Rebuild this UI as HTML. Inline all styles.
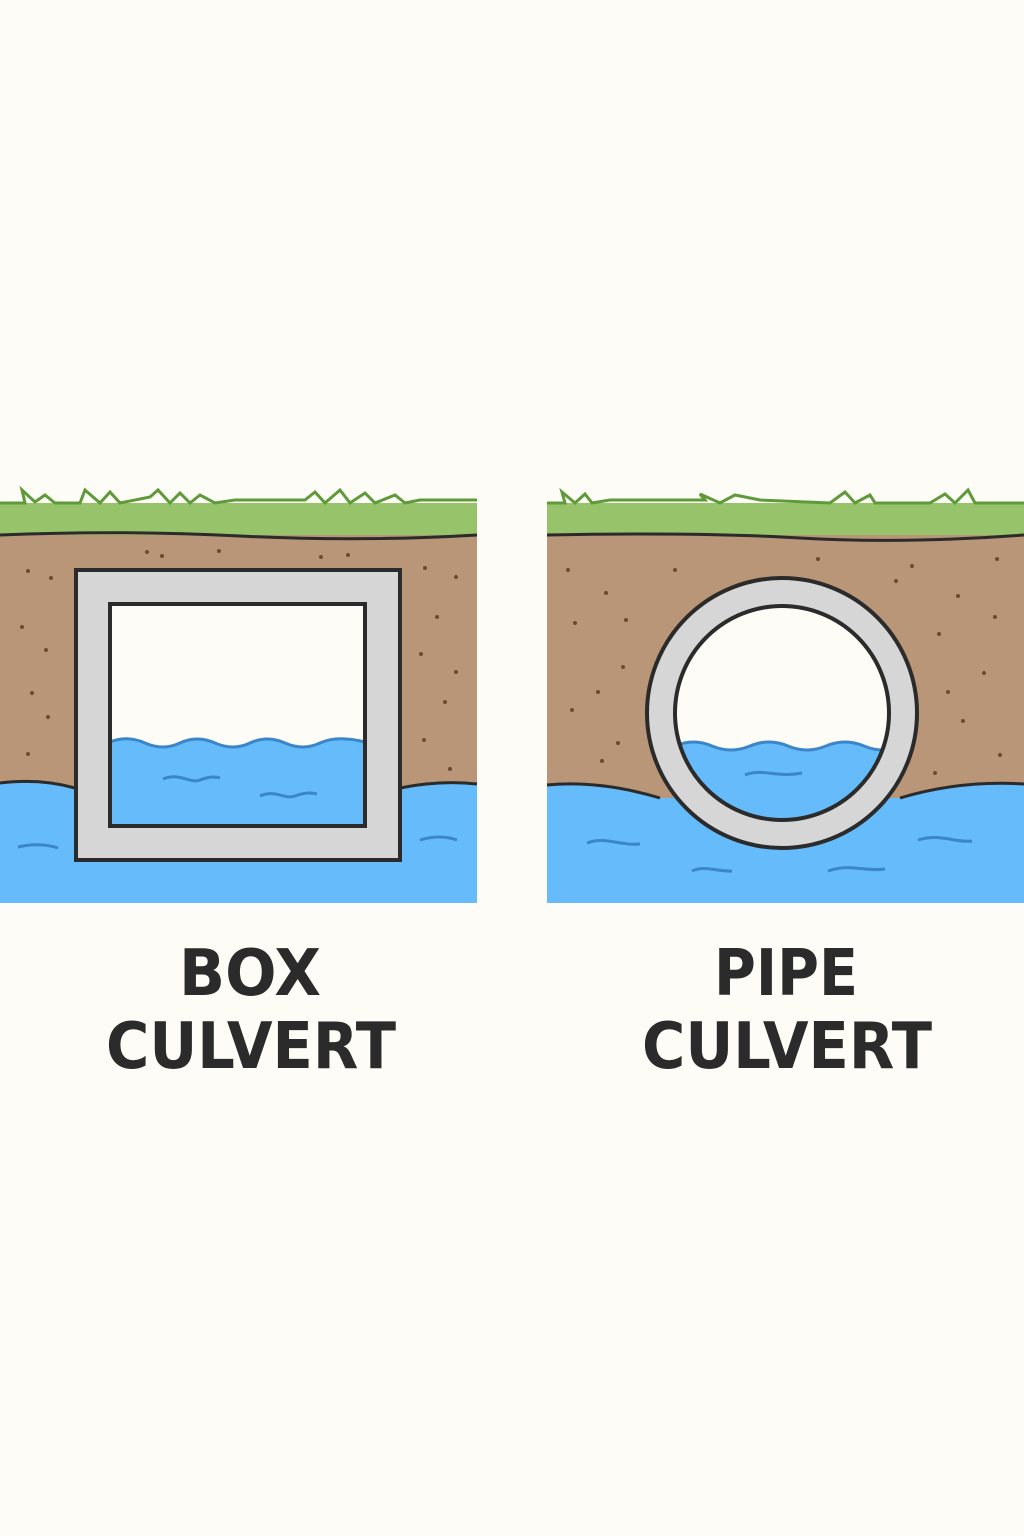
<!DOCTYPE html>
<html><head><style>
html,body{margin:0;padding:0;background:#fdfcf6;}
svg{display:block}
text{font-family:"DejaVu Sans","Liberation Sans",sans-serif;font-weight:bold;fill:#2b2b2b;}
</style></head><body>
<svg width="1024" height="1536" viewBox="0 0 1024 1536">
<rect width="1024" height="1536" fill="#fdfcf6"/>
<defs>
<clipPath id="cin"><circle cx="782" cy="713" r="107"/></clipPath>
</defs>
<!-- LEFT PANEL -->
<rect x="0" y="503" width="477" height="32" fill="#97c46a"/>
<path d="M0,503 L25,503 L22,490 L35,502 L45,495 L55,503 L80,503 L85,490 L100,503 L110,492 L120,503 L150,497 L158,490 L170,503 L180,493 L190,503 L200,495 L215,503 L235,500 L305,500 L315,492 L325,503 L340,490 L350,503 L365,493 L375,503 L395,495 L405,503 L420,500 L477,500" fill="none" stroke="#5e9a3a" stroke-width="3"/>
<rect x="0" y="535" width="477" height="265" fill="#b89677"/>
<path d="M0,535 Q120,530 240,536 T477,535" fill="none" stroke="#2b2b2b" stroke-width="3"/>
<path d="M0,783 Q40,778 75,788 L400,788 Q440,780 477,784 L477,903 L0,903 Z" fill="#66bbfa"/>
<path d="M0,783 Q40,778 75,788 M400,788 Q440,780 477,784" fill="none" stroke="#2b2b2b" stroke-width="3"/>
<g fill="#6b4a36">
<circle cx="28" cy="571" r="2"/><circle cx="51" cy="578" r="2"/><circle cx="22" cy="627" r="2"/><circle cx="46" cy="650" r="2"/><circle cx="32" cy="693" r="2"/><circle cx="48" cy="717" r="2"/><circle cx="28" cy="754" r="2"/>
<circle cx="147" cy="552" r="2"/><circle cx="162" cy="556" r="2"/><circle cx="219" cy="551" r="2"/><circle cx="321" cy="557" r="2"/><circle cx="348" cy="555" r="2"/>
<circle cx="425" cy="568" r="2"/><circle cx="456" cy="577" r="2"/><circle cx="437" cy="617" r="2"/><circle cx="421" cy="654" r="2"/><circle cx="456" cy="672" r="2"/><circle cx="445" cy="702" r="2"/><circle cx="424" cy="740" r="2"/><circle cx="450" cy="769" r="2"/>
</g>
<path d="M18,847 Q40,842 58,848" fill="none" stroke="#3a86c8" stroke-width="3"/>
<path d="M420,840 Q440,834 457,840" fill="none" stroke="#3a86c8" stroke-width="3"/>
<rect x="76" y="570" width="324" height="290" fill="#d6d6d6" stroke="#2b2b2b" stroke-width="4"/>
<rect x="110" y="604" width="255" height="222" fill="#fdfcf6"/>
<path d="M110,742 Q127,735 145,743 T180,743 T215,743 T250,743 T285,743 T320,743 T365,742 L365,826 L110,826 Z" fill="#66bbfa"/>
<path d="M110,742 Q127,735 145,743 T180,743 T215,743 T250,743 T285,743 T320,743 T365,742" fill="none" stroke="#3a86c8" stroke-width="3"/>
<path d="M163,779 C180,772 190,784 200,780 C208,777 214,776 220,778" fill="none" stroke="#3a86c8" stroke-width="3"/>
<path d="M260,796 C275,789 285,800 295,796 C303,793 310,792 317,794" fill="none" stroke="#3a86c8" stroke-width="3"/>
<rect x="110" y="604" width="255" height="222" fill="none" stroke="#2b2b2b" stroke-width="4"/>
<!-- RIGHT PANEL -->
<rect x="547" y="503" width="477" height="32" fill="#97c46a"/>
<path d="M547,503 L565,503 L562,492 L575,503 L585,494 L592,503 L610,500 L705,500 L700,494 L720,503 L735,495 L760,500 L830,503 L845,492 L855,503 L870,495 L875,503 L930,503 L945,494 L955,503 L968,490 L975,503 L1024,503" fill="none" stroke="#5e9a3a" stroke-width="3"/>
<rect x="547" y="535" width="477" height="270" fill="#b89677"/>
<path d="M547,535 Q700,532 800,538 T1024,535" fill="none" stroke="#2b2b2b" stroke-width="3"/>
<path d="M547,785 Q600,780 660,798 L900,798 Q960,780 1024,784 L1024,903 L547,903 Z" fill="#66bbfa"/>
<path d="M547,785 Q600,780 660,798 M900,798 Q960,780 1024,784" fill="none" stroke="#2b2b2b" stroke-width="3"/>
<g fill="#6b4a36">
<circle cx="568" cy="570" r="2"/><circle cx="675" cy="570" r="2"/><circle cx="606" cy="593" r="2"/><circle cx="575" cy="623" r="2"/><circle cx="626" cy="620" r="2"/><circle cx="623" cy="667" r="2"/><circle cx="598" cy="692" r="2"/><circle cx="572" cy="710" r="2"/><circle cx="618" cy="743" r="2"/><circle cx="602" cy="761" r="2"/>
<circle cx="818" cy="559" r="2"/><circle cx="912" cy="566" r="2"/><circle cx="896" cy="581" r="2"/><circle cx="997" cy="559" r="2"/><circle cx="958" cy="596" r="2"/><circle cx="995" cy="617" r="2"/><circle cx="939" cy="634" r="2"/><circle cx="984" cy="673" r="2"/><circle cx="948" cy="692" r="2"/><circle cx="963" cy="721" r="2"/><circle cx="1000" cy="755" r="2"/><circle cx="935" cy="773" r="2"/>
</g>
<path d="M587,843 C605,836 620,846 640,844" fill="none" stroke="#3a86c8" stroke-width="3"/>
<path d="M692,871 C705,865 718,872 732,871" fill="none" stroke="#3a86c8" stroke-width="3"/>
<path d="M828,871 C850,863 865,872 885,869" fill="none" stroke="#3a86c8" stroke-width="3"/>
<path d="M918,840 C940,833 955,843 972,841" fill="none" stroke="#3a86c8" stroke-width="3"/>
<circle cx="782" cy="713" r="135" fill="#d6d6d6" stroke="#2b2b2b" stroke-width="4"/>
<circle cx="782" cy="713" r="107" fill="#fdfcf6"/>
<g clip-path="url(#cin)">
<path d="M675,746 Q693,738 712,746 T750,746 T788,746 T826,746 T864,746 T900,746 L900,830 L675,830 Z" fill="#66bbfa"/>
<path d="M675,746 Q693,738 712,746 T750,746 T788,746 T826,746 T864,746 T900,746" fill="none" stroke="#3a86c8" stroke-width="3"/>
</g>
<path d="M745,775 C762,768 778,778 802,773" fill="none" stroke="#3a86c8" stroke-width="3"/>
<circle cx="782" cy="713" r="107" fill="none" stroke="#2b2b2b" stroke-width="4"/>
<!-- LABELS -->
<text x="250" y="995" font-size="64" text-anchor="middle" textLength="142" lengthAdjust="spacingAndGlyphs">BOX</text>
<text x="251" y="1068" font-size="64" text-anchor="middle" textLength="290" lengthAdjust="spacingAndGlyphs">CULVERT</text>
<text x="786" y="995" font-size="64" text-anchor="middle" textLength="144" lengthAdjust="spacingAndGlyphs">PIPE</text>
<text x="787" y="1068" font-size="64" text-anchor="middle" textLength="290" lengthAdjust="spacingAndGlyphs">CULVERT</text>
</svg>
</body></html>
